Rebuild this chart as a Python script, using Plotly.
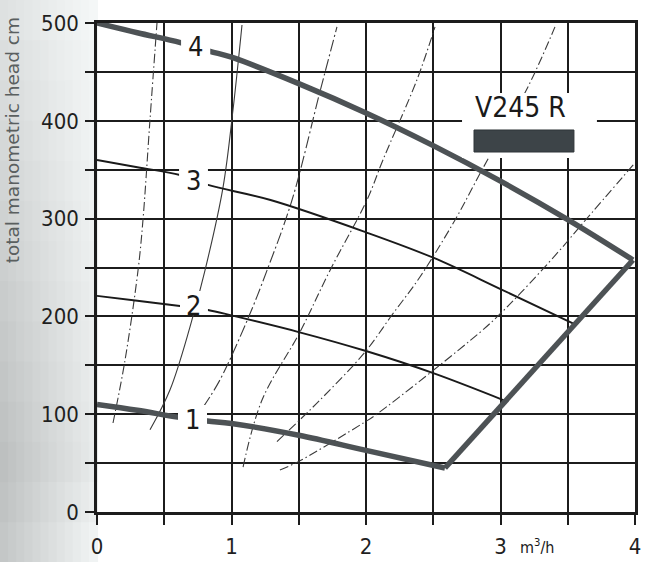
import plotly.graph_objects as go

# ---------------- data ----------------
flow_ticks = [0, 0.5, 1, 1.5, 2, 2.5, 3, 3.5, 4]
flow_labels = ["0", "", "1", "", "2", "", "3", "", "4"]
head_ticks = [0, 50, 100, 150, 200, 250, 300, 350, 400, 450, 500]
head_labels = ["0", "", "100", "", "200", "", "300", "", "400", "", "500"]

# thick performance curves (speed 4 and 1) and the right-hand limit
curve4_x = [0, 0.3, 0.62, 0.84, 1.0, 1.5, 2.0, 2.5, 3.0, 3.5, 3.985]
curve4_y = [500, 490, 480, 471, 465, 438, 408, 374.6, 338.3, 299, 257.7]
curve1_x = [0, 0.3, 0.6, 0.82, 1.0, 1.5, 2.0, 2.587]
curve1_y = [110, 104, 97, 93, 90.5, 78.5, 63, 45]
limit_x = [3.985, 2.587]
limit_y = [257.7, 45]

# thin performance curves (speed 3 and 2)
curve3_x = [0, 0.3, 0.617, 0.825, 1.29, 2.0, 2.5, 3.0, 3.55]
curve3_y = [360, 352.5, 344.6, 334.4, 319, 286, 260, 228, 192]
curve2_x = [0, 0.3, 0.617, 0.825, 1.0, 1.5, 2.0, 2.5, 3.03]
curve2_y = [221, 216, 210.6, 206.5, 201, 184, 164.6, 142, 114]

# auxiliary curves
aux_a_x = [0.119, 0.208, 0.305, 0.342, 0.394, 0.446]
aux_a_y = [91, 155, 247, 299, 401, 500]
aux_b_x = [0.394, 0.543, 0.691, 0.803, 0.937, 1.011, 1.078]
aux_b_y = [84, 125, 189, 247, 332, 411, 498]
aux_c_x = [0.788, 0.914, 1.123, 1.264, 1.45, 1.66, 1.784]
aux_c_y = [107, 135, 198, 247, 319, 431, 496]
aux_d_x = [1.086, 1.227, 1.509, 1.732, 2.007, 2.126, 2.379, 2.513]
aux_d_y = [46, 114.5, 184, 247, 319, 360, 442, 496]
aux_e_x = [1.338, 1.658, 1.993, 2.193, 2.401, 2.662, 2.862, 3.204, 3.405]
aux_e_y = [72, 114.5, 163.6, 201.4, 240.3, 298.6, 349.7, 434.6, 496]
aux_f_x = [1.36, 1.49, 1.98, 2.09, 2.85, 3.0, 3.15, 3.43, 3.61, 4.0]
aux_f_y = [43, 51, 91, 101, 184, 203, 224, 266, 295, 357]

curve_labels = ["4", "3", "2", "1"]
label_x = [0.733, 0.717, 0.72, 0.71]
label_y = [475.5, 339, 211, 95]

model_name = "V245 R"
x_unit = "m<sup>3</sup>/h"
y_title = "total manometric head cm"

# ---------------- figure ----------------
fig = go.Figure()

FONT = "DejaVu Sans Condensed, DejaVu Sans, sans-serif"
dashdot = "9px,3px,1.5px,3px"

aux = [(aux_a_x, aux_a_y, dashdot), (aux_b_x, aux_b_y, "solid"),
       (aux_c_x, aux_c_y, "12px,3px,2px,3px"), (aux_d_x, aux_d_y, dashdot),
       (aux_e_x, aux_e_y, dashdot), (aux_f_x, aux_f_y, dashdot)]
for ax, ay, d in aux:
    fig.add_trace(go.Scatter(x=ax, y=ay, mode="lines",
                             line=dict(color="#3a3a3a", width=1.1, dash=d, shape="spline"),
                             hoverinfo="skip"))

for cx, cy in [(curve3_x, curve3_y), (curve2_x, curve2_y)]:
    fig.add_trace(go.Scatter(x=cx, y=cy, mode="lines",
                             line=dict(color="#1a1a1a", width=1.9, shape="spline"),
                             hoverinfo="skip"))

for cx, cy, shp in [(curve4_x, curve4_y, "spline"), (limit_x, limit_y, "linear"),
                    (curve1_x, curve1_y, "spline")]:
    fig.add_trace(go.Scatter(x=cx, y=cy, mode="lines",
                             line=dict(color="#4d5255", width=5.5, shape=shp),
                             hoverinfo="skip"))

shapes = []
# scanned grey margin on the left (soft gradient)
ncol, nrow = 12, 14
left_edge = -0.1803
for i in range(ncol):
    for j in range(nrow):
        fx = i / (ncol - 1)
        fy = j / (nrow - 1)          # 0 = top, 1 = bottom
        g = 222 - 38 * fy * (1 - 0.6 * fx) + 22 * fx
        if fy > 0.85:
            g += 12 * (fy - 0.85) / 0.15
        g = int(max(160, min(245, g)))
        x0 = left_edge + (0 - left_edge) * i / ncol
        x1 = left_edge + (0 - left_edge) * (i + 1) / ncol
        y1 = 1.047 - (1.047 + 0.103) * j / nrow
        y0 = 1.047 - (1.047 + 0.103) * (j + 1) / nrow
        shapes.append(dict(type="rect", xref="paper", yref="paper",
                           x0=x0, x1=x1 + 0.002, y0=y0 - 0.002, y1=y1,
                           fillcolor=f"rgb({g},{min(255, g + 3)},{min(255, g + 3)})",
                           line=dict(width=0), layer="below"))

# white gaps round the curve numbers
gaps = [(0.625, 0.842, 462, 489), (0.61, 0.825, 325, 353),
        (0.617, 0.825, 202.5, 226), (0.602, 0.818, 81.8, 109.4)]
for x0, x1, y0, y1 in gaps:
    shapes.append(dict(type="rect", xref="x", yref="y", x0=x0, x1=x1, y0=y0, y1=y1,
                       fillcolor="white", line=dict(width=0), layer="above"))
# white box behind the model name and the bar
shapes.append(dict(type="rect", xref="x", yref="y", x0=2.714, x1=3.717, y0=362, y1=428.4,
                   fillcolor="white", line=dict(width=0), layer="above"))
shapes.append(dict(type="rect", xref="x", yref="y", x0=2.803, x1=3.546, y0=368.1, y1=390.6,
                   fillcolor="#3d4448", line=dict(color="#2f3538", width=1), layer="above"))

annotations = []
for t, lx, ly in zip(curve_labels, label_x, label_y):
    annotations.append(dict(x=lx, y=ly, xref="x", yref="y", text=t, showarrow=False,
                            font=dict(family=FONT, size=27, color="#1a1a1a")))
annotations.append(dict(x=3.145, y=414, xref="x", yref="y", text=model_name, showarrow=False,
                        font=dict(family=FONT, size=28, color="#1a1a1a")))
annotations.append(dict(x=3.27, y=-0.07, xref="x", yref="paper", text=x_unit, showarrow=False,
                        yanchor="middle",
                        font=dict(family=FONT, size=16, color="#1a1a1a")))
annotations.append(dict(x=-0.158, y=0.76, xref="paper", yref="paper", text=y_title,
                        showarrow=False, textangle=-90, xanchor="center", yanchor="middle",
                        font=dict(family="DejaVu Sans, sans-serif", size=18.5, color="#5a5f5f")))

axis_common = dict(showgrid=True, gridcolor="#1c1c1c", gridwidth=1.6,
                   ticks="outside", tickcolor="#1c1c1c", tickwidth=1.6,
                   showline=True, linecolor="#1c1c1c", linewidth=2.5, mirror=True,
                   zeroline=False, automargin=False,
                   tickfont=dict(family=FONT, size=22, color="#1f1f1f"))

fig.update_layout(
    width=652, height=562,
    margin=dict(l=97, r=17, t=23, b=50, autoexpand=False),
    paper_bgcolor="white", plot_bgcolor="white",
    showlegend=False,
    shapes=shapes, annotations=annotations,
    xaxis=dict(range=[0, 4], tickmode="array", tickvals=flow_ticks, ticktext=flow_labels,
               ticklen=10, ticklabelstandoff=3, **axis_common),
    yaxis=dict(range=[0, 500], tickmode="array", tickvals=head_ticks, ticktext=head_labels,
               ticklen=9, ticklabelstandoff=2, **axis_common),
)

fig.write_html("out.html", config={"displayModeBar": False},
               post_script="document.body.style.margin='0';document.body.style.padding='0';")
